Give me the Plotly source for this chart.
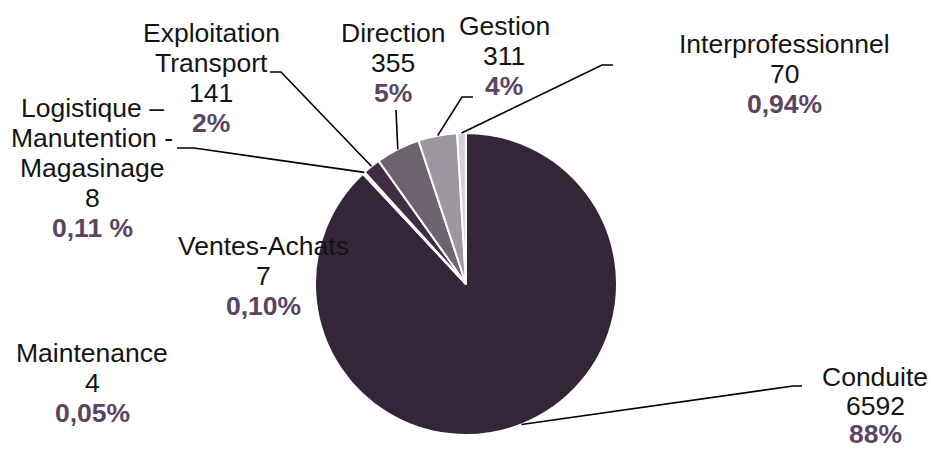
import math
import plotly.graph_objects as go

# ---------------- data ----------------
categories = ["Conduite", "Maintenance", "Ventes-Achats",
              "Logistique – Manutention - Magasinage", "Exploitation Transport",
              "Direction", "Gestion", "Interprofessionnel"]
values = [6592, 4, 7, 8, 141, 355, 311, 70]
pct_labels = ["88%", "0,05%", "0,10%", "0,11 %", "2%", "5%", "4%", "0,94%"]
name_lines = [["Conduite"], ["Maintenance"], ["Ventes-Achats"],
              ["Logistique –", "Manutention -", "Magasinage"],
              ["Exploitation", "Transport"], ["Direction"], ["Gestion"],
              ["Interprofessionnel"]]

# ---------------- style / layout ----------------
W, H = 931, 452
colors = ["#352538", "#352538", "#352538", "#3a2a3e", "#402c44",
          "#6e6370", "#9d97a0", "#d2d1d4"]
CX, CY, R = 466, 284, 151
FONT = "Liberation Sans, Arial, sans-serif"
FS = 26.5
TXT = "#141414"
PCT = "#5a4462"

# label block positions: (x center, first baseline, line step) in px
label_pos = [(875, 386, 28.5), (92, 362, 30), (263, 255, 30), (92, 117, 30),
             (211, 42, 30), (393, 42, 30), (504, 35, 30), (784, 53, 30)]
# leader line outer points (px), None = no leader
leader_outer = [[(802, 386), (793, 386)], None, None,
                [(177, 148), (194, 148)], [(270, 72), (281, 72)],
                [(396, 110)], [(473, 97), (462, 97)], [(613, 65), (602, 65)]]


def px(x, y):
    return x / W, 1 - y / H


fig = go.Figure(go.Pie(
    labels=categories, values=values, sort=False, direction="clockwise",
    rotation=0, marker=dict(colors=colors, line=dict(color="white", width=2)),
    textinfo="none", hoverinfo="label+value+percent", showlegend=False,
    domain=dict(x=[(CX - R) / W, (CX + R) / W],
                y=[(H - CY - R) / H, (H - CY + R) / H]),
))

annotations = []
for i, cat in enumerate(categories):
    lines = name_lines[i] + [str(values[i])]
    x0, b0, step = label_pos[i]
    allines = [(t, TXT, False) for t in lines] + [(pct_labels[i], PCT, True)]
    for k, (t, col, bold) in enumerate(allines):
        xp, yp = px(x0, b0 + k * step - 9)
        annotations.append(dict(
            x=xp, y=yp, xref="paper", yref="paper", showarrow=False,
            xanchor="center", yanchor="middle", borderpad=0,
            text=f"<b>{t}</b>" if bold else t,
            font=dict(family=FONT, size=FS, color=col)))

# leader lines: from data angle on pie edge to label
total = sum(values)
shapes = []
cum = 0
for i, v in enumerate(values):
    mid = (cum + v / 2) / total * 2 * math.pi
    cum += v
    if leader_outer[i] is None:
        continue
    ex = CX + R * math.sin(mid)
    ey = CY - R * math.cos(mid)
    pts = leader_outer[i] + [(ex, ey)]
    path = "M " + " L ".join(f"{px(a, b)[0]:.5f},{px(a, b)[1]:.5f}" for a, b in pts)
    shapes.append(dict(type="path", path=path, xref="paper", yref="paper",
                       line=dict(color="#000000", width=1.6)))

fig.update_layout(
    width=W, height=H, margin=dict(l=0, r=0, t=0, b=0),
    paper_bgcolor="white", plot_bgcolor="white",
    annotations=annotations, shapes=shapes,
)

fig.write_html("out.html", config={"displayModeBar": False},
               post_script="document.body.style.margin='0';"
                           "document.body.style.overflow='hidden';")
